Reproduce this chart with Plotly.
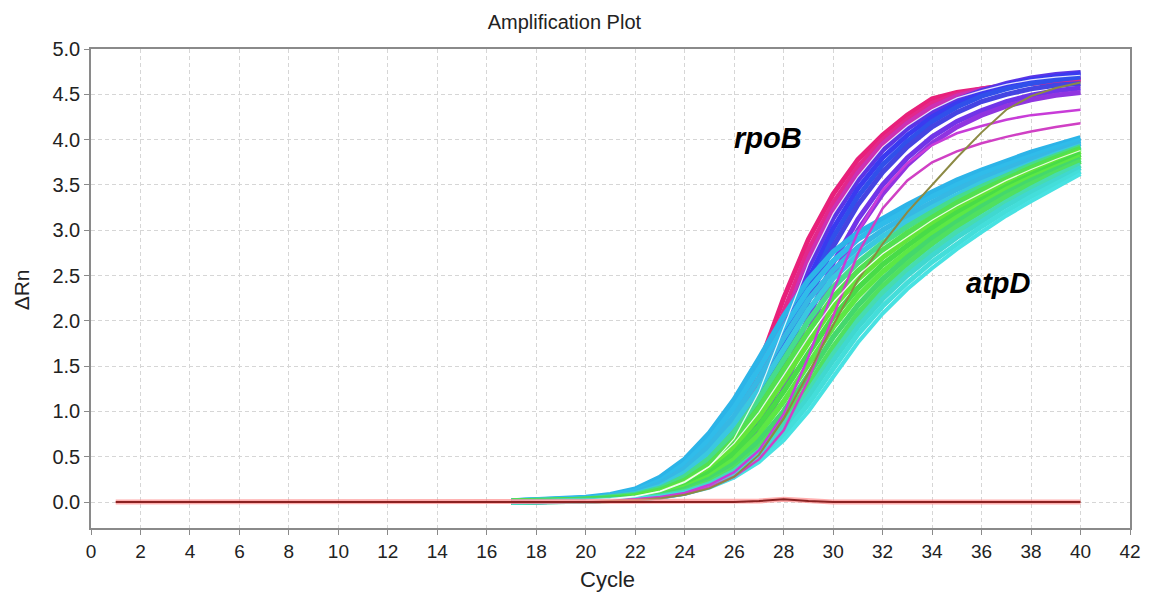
import plotly.graph_objects as go

# ---------------- data ----------------
cycles = list(range(17, 41))
base_cycles = list(range(1, 41))
baseline = [0.0] * 26 + [0.01, 0.03, 0.01] + [0.0] * 11

# rpoB curves (cycles 17..40)
rpoB_P1 = [0.0,0.0,0.01,0.02,0.04,0.08,0.15,0.28,0.5,0.9,1.5,2.25,2.9,3.4,3.78,4.05,4.27,4.45,4.52,4.56,4.6,4.62,4.64,4.66]
rpoB_P2 = [0.0,0.0,0.01,0.02,0.035,0.07,0.13,0.24,0.44,0.8,1.36,2.1,2.78,3.3,3.7,4.0,4.22,4.4,4.5,4.56,4.6,4.63,4.65,4.67]
rpoB_P3 = [0.0,0.0,0.01,0.015,0.03,0.06,0.12,0.22,0.4,0.72,1.25,1.98,2.68,3.22,3.63,3.95,4.18,4.36,4.48,4.55,4.6,4.64,4.67,4.69]
rpoB_B1 = [0.0,0.0,0.01,0.015,0.03,0.06,0.11,0.21,0.38,0.68,1.17,1.88,2.58,3.13,3.55,3.88,4.12,4.3,4.44,4.54,4.62,4.68,4.72,4.74]
rpoB_B2 = [0.0,0.0,0.005,0.015,0.03,0.05,0.1,0.19,0.35,0.63,1.08,1.76,2.46,3.02,3.46,3.8,4.05,4.25,4.4,4.51,4.6,4.66,4.7,4.73]
rpoB_B3 = [0.0,0.0,0.005,0.01,0.025,0.05,0.09,0.17,0.32,0.58,1.0,1.64,2.34,2.92,3.37,3.72,3.98,4.2,4.36,4.48,4.56,4.62,4.66,4.69]
rpoB_B4 = [0.0,0.0,0.005,0.01,0.02,0.045,0.085,0.16,0.3,0.54,0.93,1.53,2.22,2.82,3.28,3.64,3.92,4.14,4.3,4.42,4.5,4.56,4.6,4.62]
rpoB_U1 = [0.0,0.0,0.005,0.01,0.02,0.04,0.075,0.14,0.26,0.47,0.83,1.38,2.04,2.64,3.12,3.5,3.8,4.03,4.2,4.32,4.42,4.49,4.54,4.57]
rpoB_U2 = [0.0,0.0,0.0,0.01,0.02,0.035,0.065,0.12,0.23,0.42,0.74,1.25,1.88,2.5,3.0,3.4,3.72,3.96,4.14,4.27,4.37,4.44,4.49,4.52]
rpoB_M1 = [0.0,0.0,0.0,0.01,0.015,0.03,0.055,0.1,0.19,0.33,0.57,0.97,1.6,2.33,2.98,3.44,3.74,3.94,4.07,4.15,4.22,4.27,4.3,4.33]
rpoB_M2 = [0.0,0.0,0.0,0.005,0.01,0.025,0.045,0.085,0.16,0.28,0.47,0.79,1.35,2.05,2.74,3.24,3.55,3.75,3.87,3.96,4.03,4.09,4.14,4.18]
rpoB_O1 = [0.0,0.0,0.0,0.005,0.01,0.02,0.04,0.08,0.15,0.28,0.52,0.92,1.42,1.95,2.45,2.85,3.2,3.5,3.8,4.08,4.33,4.48,4.57,4.63]
rpoB_W1 = [0.0,0.0,0.01,0.015,0.03,0.06,0.115,0.215,0.39,0.7,1.21,1.93,2.63,3.18,3.59,3.92,4.15,4.33,4.46,4.54,4.61,4.66,4.69,4.71]

# atpD curves (cycles 17..40)
atpD_C1 = [0.01,0.02,0.03,0.05,0.08,0.14,0.27,0.47,0.76,1.13,1.58,2.05,2.45,2.76,2.97,3.13,3.28,3.42,3.55,3.66,3.76,3.86,3.94,4.02]
atpD_C2 = [0.01,0.02,0.03,0.04,0.07,0.12,0.23,0.42,0.69,1.04,1.47,1.93,2.34,2.66,2.9,3.07,3.22,3.37,3.5,3.62,3.72,3.82,3.91,3.99]
atpD_C3 = [0.01,0.015,0.025,0.035,0.06,0.1,0.2,0.37,0.62,0.95,1.36,1.81,2.23,2.56,2.81,3.0,3.16,3.31,3.45,3.57,3.68,3.78,3.87,3.96]
atpD_C4 = [0.01,0.015,0.02,0.03,0.05,0.09,0.17,0.32,0.55,0.86,1.25,1.69,2.12,2.47,2.73,2.93,3.1,3.25,3.39,3.52,3.63,3.74,3.84,3.93]
atpD_G1 = [0.01,0.01,0.02,0.03,0.05,0.08,0.15,0.28,0.48,0.77,1.14,1.57,2.0,2.37,2.64,2.86,3.04,3.2,3.35,3.48,3.6,3.72,3.82,3.92]
atpD_G2 = [0.01,0.01,0.02,0.025,0.04,0.07,0.13,0.24,0.42,0.69,1.04,1.46,1.88,2.26,2.55,2.78,2.97,3.14,3.3,3.44,3.57,3.69,3.8,3.9]
atpD_G3 = [0.0,0.01,0.015,0.02,0.035,0.06,0.11,0.21,0.37,0.61,0.94,1.34,1.76,2.15,2.46,2.7,2.9,3.08,3.24,3.39,3.53,3.65,3.76,3.87]
atpD_G4 = [0.0,0.01,0.015,0.02,0.03,0.05,0.1,0.18,0.32,0.54,0.84,1.22,1.64,2.04,2.36,2.62,2.83,3.02,3.19,3.34,3.48,3.61,3.73,3.84]
atpD_G5 = [0.0,0.005,0.01,0.015,0.025,0.045,0.085,0.16,0.28,0.47,0.75,1.11,1.52,1.93,2.27,2.54,2.76,2.96,3.14,3.3,3.45,3.58,3.7,3.81]
atpD_G6 = [0.0,0.005,0.01,0.015,0.02,0.04,0.075,0.14,0.25,0.42,0.67,1.0,1.4,1.82,2.17,2.46,2.7,2.91,3.09,3.26,3.41,3.55,3.67,3.78]
atpD_G7 = [0.0,0.0,0.01,0.01,0.02,0.035,0.065,0.12,0.22,0.37,0.6,0.91,1.29,1.71,2.08,2.38,2.63,2.85,3.04,3.21,3.37,3.51,3.64,3.76]
atpD_A0 = [0.0,0.0,0.01,0.01,0.02,0.032,0.06,0.11,0.2,0.34,0.56,0.85,1.22,1.63,2.0,2.31,2.56,2.78,2.98,3.15,3.31,3.46,3.6,3.72]
atpD_A1 = [0.0,0.0,0.01,0.01,0.02,0.03,0.055,0.1,0.19,0.32,0.52,0.8,1.16,1.56,1.93,2.24,2.5,2.72,2.92,3.1,3.27,3.42,3.56,3.69]
atpD_A1b = [0.0,0.0,0.008,0.01,0.018,0.03,0.052,0.095,0.175,0.295,0.48,0.74,1.08,1.47,1.85,2.16,2.42,2.65,2.85,3.04,3.21,3.37,3.51,3.65]
atpD_A2 = [0.0,0.0,0.005,0.01,0.015,0.03,0.05,0.09,0.16,0.27,0.44,0.68,1.0,1.38,1.76,2.08,2.35,2.58,2.79,2.98,3.16,3.32,3.47,3.62]
atpD_W2 = [0.01,0.01,0.018,0.022,0.038,0.065,0.12,0.225,0.395,0.65,0.99,1.4,1.82,2.2,2.5,2.74,2.93,3.11,3.27,3.41,3.55,3.67,3.78,3.88]

x_ticks = list(range(0, 43, 2))
y_ticks = [0.0, 0.5, 1.0, 1.5, 2.0, 2.5, 3.0, 3.5, 4.0, 4.5, 5.0]

# ---------------- styling ----------------
rpob_band = [
    (rpoB_P1, "#E8207A", 5), (rpoB_P2, "#E2288C", 5), (rpoB_P3, "#CC30B4", 5),
    (rpoB_B1, "#5A34E6", 5), (rpoB_B2, "#3A3AF0", 5), (rpoB_B3, "#3050EA", 5),
    (rpoB_B4, "#4444E2", 5), (rpoB_U1, "#7034E8", 5), (rpoB_U2, "#9034E0", 5),
]
atpd_band = [
    (atpD_C1, "#2CB4E8", 5.5), (atpD_C2, "#30BCEA", 5.5), (atpD_C3, "#36B8E4", 5.5),
    (atpD_C4, "#3AC8E0", 5.5), (atpD_G1, "#46DC8C", 5.5), (atpD_G2, "#52E050", 5.5),
    (atpD_G3, "#62E63A", 5.5), (atpD_G4, "#48DC48", 5.5), (atpD_G5, "#5CE844", 5.5),
    (atpD_G6, "#44D86C", 5.5), (atpD_G7, "#50E060", 5.5), (atpD_A0, "#46DCB0", 5.5),
    (atpD_A1, "#40D8D0", 5), (atpD_A1b, "#44DEDA", 5), (atpD_A2, "#48E2E2", 4),
]
over = [
    (rpoB_M1, "#C83CD8", 2.5), (rpoB_M2, "#D040C4", 2.5), (rpoB_O1, "#8C8A44", 2),
    (rpoB_W1, "rgba(255,255,255,0.85)", 1.2), (atpD_W2, "rgba(255,255,255,0.85)", 1.2),
]

fig = go.Figure()
for vals, col, w in rpob_band + atpd_band + over:
    fig.add_trace(go.Scatter(x=cycles, y=vals, mode="lines",
                             line=dict(color=col, width=w),
                             hoverinfo="skip", showlegend=False))

# flat baseline traces
fig.add_trace(go.Scatter(x=base_cycles, y=baseline, mode="lines",
                         line=dict(color="rgba(255,140,140,0.7)", width=5),
                         hoverinfo="skip", showlegend=False))
fig.add_trace(go.Scatter(x=base_cycles, y=baseline, mode="lines",
                         line=dict(color="#8B2222", width=2),
                         hoverinfo="skip", showlegend=False))

FONT = "Liberation Sans, Arial, sans-serif"
tick_font = dict(family=FONT, size=19, color="#222")

fig.update_layout(
    width=1153, height=597,
    margin=dict(l=91, r=15, t=49, b=69),
    plot_bgcolor="white", paper_bgcolor="white",
    title=dict(text="Amplification Plot", x=0.4556, xref="paper", xanchor="center",
               y=1 - 22 / 597, yref="container", yanchor="middle",
               font=dict(family=FONT, size=20, color="#222")),
    xaxis=dict(range=[0, 42], tickmode="array", tickvals=x_ticks,
               ticktext=[str(v) for v in x_ticks],
               showgrid=True, gridcolor="#d6d6d6", griddash="4px,3px", gridwidth=1,
               showline=True, linecolor="#8a8a8a", linewidth=1.5, mirror=True,
               ticks="outside", ticklen=5, tickcolor="#8a8a8a", tickfont=tick_font,
               zeroline=False),
    yaxis=dict(range=[-0.287, 5.0], tickmode="array", tickvals=y_ticks,
               ticktext=[f"{v:.1f}" for v in y_ticks],
               showgrid=True, gridcolor="#d6d6d6", griddash="4px,3px", gridwidth=1,
               showline=True, linecolor="#8a8a8a", linewidth=1.5, mirror=True,
               ticks="outside", ticklen=5, tickcolor="#8a8a8a",
               tickfont=dict(family=FONT, size=20, color="#222"),
               zeroline=False),
    annotations=[
        dict(text="Cycle", x=0.497, y=-0.108, xref="paper", yref="paper",
             xanchor="center", yanchor="middle", showarrow=False,
             font=dict(family=FONT, size=22, color="#222")),
        dict(text="ΔRn", x=-0.066, y=0.497, xref="paper", yref="paper",
             xanchor="center", yanchor="middle", showarrow=False, textangle=-90,
             font=dict(family=FONT, size=21, color="#222")),
        dict(text="<b><i>rpoB</i></b>", x=27.36, y=4.02, xref="x", yref="y",
             xanchor="center", yanchor="middle", showarrow=False,
             font=dict(family=FONT, size=29, color="#000")),
        dict(text="<b><i>atpD</i></b>", x=36.7, y=2.42, xref="x", yref="y",
             xanchor="center", yanchor="middle", showarrow=False,
             font=dict(family=FONT, size=29, color="#000")),
    ],
)

fig.write_html("out.html")
